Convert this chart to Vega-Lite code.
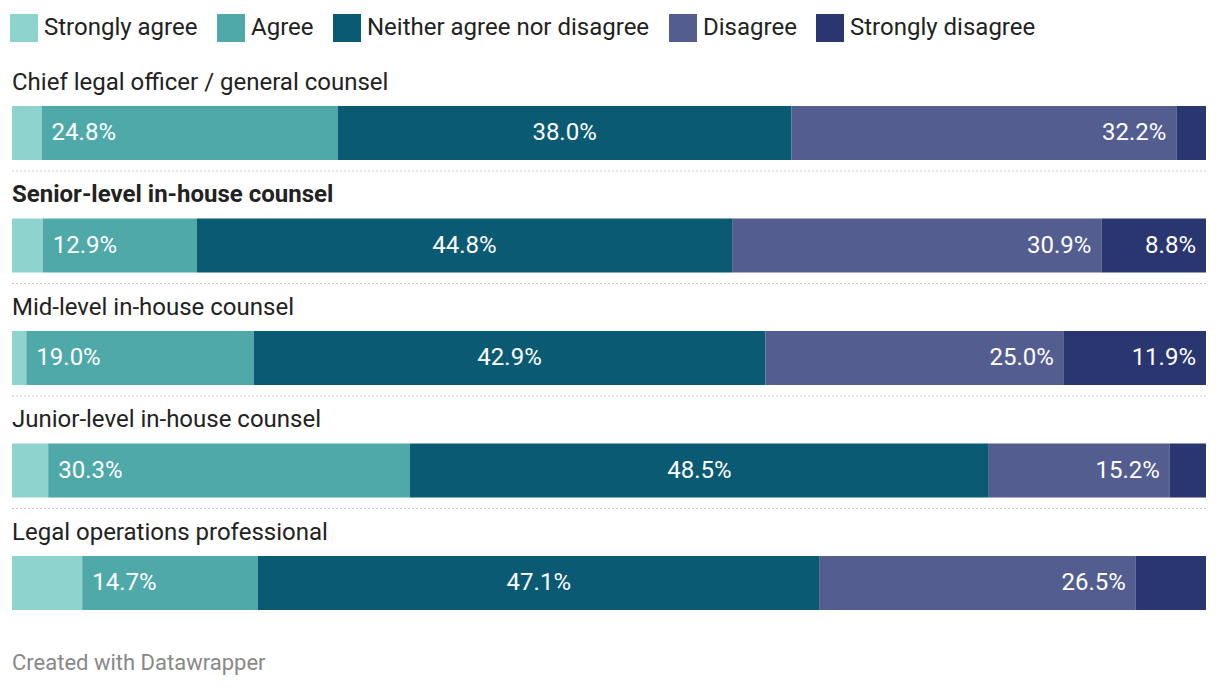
{
  "$schema": "https://vega.github.io/schema/vega-lite/v6.json",
  "width": 1194,
  "height": 562.5,
  "autosize": "none",
  "padding": {"left": 12, "top": 58.5, "right": 14, "bottom": 67},
  "config": {"font": "Roboto", "view": {"stroke": null}},
  "title": {"text": "Created with Datawrapper", "orient": "bottom", "anchor": "start", "frame": "group", "fontSize": 22, "fontWeight": "normal", "color": "#888888", "offset": 32, "baseline": "top"},
  "data": {"values": [
    {"group": "Chief legal officer / general counsel", "response": "Strongly agree", "rank": 1, "pct": 0.0248},
    {"group": "Chief legal officer / general counsel", "response": "Agree", "rank": 2, "pct": 0.2479},
    {"group": "Chief legal officer / general counsel", "response": "Neither agree nor disagree", "rank": 3, "pct": 0.3802},
    {"group": "Chief legal officer / general counsel", "response": "Disagree", "rank": 4, "pct": 0.3223},
    {"group": "Chief legal officer / general counsel", "response": "Strongly disagree", "rank": 5, "pct": 0.0248},
    {"group": "Senior-level in-house counsel", "response": "Strongly agree", "rank": 1, "pct": 0.0258},
    {"group": "Senior-level in-house counsel", "response": "Agree", "rank": 2, "pct": 0.1289},
    {"group": "Senior-level in-house counsel", "response": "Neither agree nor disagree", "rank": 3, "pct": 0.4484},
    {"group": "Senior-level in-house counsel", "response": "Disagree", "rank": 4, "pct": 0.3093},
    {"group": "Senior-level in-house counsel", "response": "Strongly disagree", "rank": 5, "pct": 0.0876},
    {"group": "Mid-level in-house counsel", "response": "Strongly agree", "rank": 1, "pct": 0.012},
    {"group": "Mid-level in-house counsel", "response": "Agree", "rank": 2, "pct": 0.1904},
    {"group": "Mid-level in-house counsel", "response": "Neither agree nor disagree", "rank": 3, "pct": 0.4286},
    {"group": "Mid-level in-house counsel", "response": "Disagree", "rank": 4, "pct": 0.25},
    {"group": "Mid-level in-house counsel", "response": "Strongly disagree", "rank": 5, "pct": 0.119},
    {"group": "Junior-level in-house counsel", "response": "Strongly agree", "rank": 1, "pct": 0.0303},
    {"group": "Junior-level in-house counsel", "response": "Agree", "rank": 2, "pct": 0.303},
    {"group": "Junior-level in-house counsel", "response": "Neither agree nor disagree", "rank": 3, "pct": 0.4848},
    {"group": "Junior-level in-house counsel", "response": "Disagree", "rank": 4, "pct": 0.1516},
    {"group": "Junior-level in-house counsel", "response": "Strongly disagree", "rank": 5, "pct": 0.0303},
    {"group": "Legal operations professional", "response": "Strongly agree", "rank": 1, "pct": 0.0588},
    {"group": "Legal operations professional", "response": "Agree", "rank": 2, "pct": 0.1471},
    {"group": "Legal operations professional", "response": "Neither agree nor disagree", "rank": 3, "pct": 0.4706},
    {"group": "Legal operations professional", "response": "Disagree", "rank": 4, "pct": 0.2647},
    {"group": "Legal operations professional", "response": "Strongly disagree", "rank": 5, "pct": 0.0588}
  ]},
  "transform": [
    {"stack": "pct", "groupby": ["group"], "sort": [{"field": "rank", "order": "ascending"}], "as": ["x0", "x1"]}
  ],
  "layer": [
    {
      "mark": {"type": "bar", "height": {"band": 0.48}},
      "encoding": {
        "y": {"field": "group", "type": "nominal", "axis": null, "sort": null, "scale": {"domain": ["Chief legal officer / general counsel", "Senior-level in-house counsel", "Mid-level in-house counsel", "Junior-level in-house counsel", "Legal operations professional"], "paddingInner": 0, "paddingOuter": 0}},
        "yOffset": {"value": 18.25},
        "x": {"field": "x0", "type": "quantitative", "axis": null, "scale": {"domain": [0, 1], "nice": false}},
        "x2": {"field": "x1"},
        "color": {
          "field": "response", "type": "nominal",
          "scale": {"domain": ["Strongly agree", "Agree", "Neither agree nor disagree", "Disagree", "Strongly disagree"], "range": ["#8fd3cf", "#4ea9a8", "#0a5a73", "#545d90", "#29366f"]},
          "legend": {"orient": "none", "legendX": -2, "legendY": -44.5, "direction": "horizontal", "title": null, "symbolType": "square", "symbolSize": 784, "symbolStrokeWidth": 0, "symbolOpacity": 1, "labelFontSize": 24, "labelColor": "#222222", "labelOffset": 6, "columnPadding": 19, "gridAlign": "none", "padding": 0, "labelLimit": 500}
        }
      }
    },
    {
      "transform": [{"filter": "datum.rank == 1 && datum.group != 'Senior-level in-house counsel'"}],
      "mark": {"type": "text", "align": "left", "baseline": "middle", "dy": 24, "fontSize": 24, "color": "#222222"},
      "encoding": {
        "y": {"field": "group", "type": "nominal", "sort": null, "bandPosition": 0},
        "x": {"datum": 0, "type": "quantitative"},
        "text": {"field": "group"}
      }
    },
    {
      "transform": [{"filter": "datum.rank == 1 && datum.group == 'Senior-level in-house counsel'"}],
      "mark": {"type": "text", "align": "left", "baseline": "middle", "dy": 24, "fontSize": 24, "fontWeight": "bold", "color": "#222222"},
      "encoding": {
        "y": {"field": "group", "type": "nominal", "sort": null, "bandPosition": 0},
        "x": {"datum": 0, "type": "quantitative"},
        "text": {"field": "group"}
      }
    },
    {
      "transform": [{"filter": "datum.rank == 1 && datum.group != 'Legal operations professional'"}],
      "mark": {"type": "rule", "color": "#c8c8c8", "strokeWidth": 1, "strokeDash": [2, 2]},
      "encoding": {
        "y": {"field": "group", "type": "nominal", "sort": null, "bandPosition": 1}
      }
    },
    {
      "transform": [{"filter": "datum.rank == 2 && datum.pct >= 0.08"}],
      "mark": {"type": "text", "align": "left", "baseline": "middle", "dx": 10, "dy": 18.25, "fontSize": 24, "color": "white"},
      "encoding": {
        "y": {"field": "group", "type": "nominal", "sort": null},
        "x": {"field": "x0", "type": "quantitative"},
        "text": {"field": "pct", "type": "quantitative", "format": ".1%"}
      }
    },
    {
      "transform": [{"filter": "datum.rank == 3 && datum.pct >= 0.08"}, {"fold": ["x0", "x1"]}],
      "mark": {"type": "text", "align": "center", "baseline": "middle", "dy": 18.25, "fontSize": 24, "color": "white"},
      "encoding": {
        "y": {"field": "group", "type": "nominal", "sort": null},
        "x": {"aggregate": "mean", "field": "value", "type": "quantitative"},
        "text": {"field": "pct", "type": "quantitative", "format": ".1%"}
      }
    },
    {
      "transform": [{"filter": "datum.rank >= 4 && datum.pct >= 0.08"}],
      "mark": {"type": "text", "align": "right", "baseline": "middle", "dx": -10, "dy": 18.25, "fontSize": 24, "color": "white"},
      "encoding": {
        "y": {"field": "group", "type": "nominal", "sort": null},
        "x": {"field": "x1", "type": "quantitative"},
        "text": {"field": "pct", "type": "quantitative", "format": ".1%"}
      }
    }
  ]
}
